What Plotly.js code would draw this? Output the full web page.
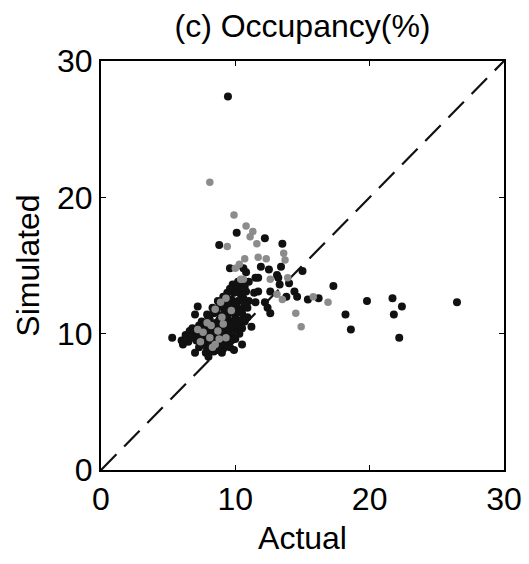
<!DOCTYPE html>
<html>
<head>
<meta charset="utf-8">
<script src="https://cdn.plot.ly/plotly-3.0.1.min.js"></script>
<style>html,body{margin:0;padding:0;background:#fff;}#chart{width:529px;height:564px;}</style>
</head>
<body>
<div id="chart"></div>
<script>
// Black series (Actual, Simulated)
var blackX = [9.45,10.1,8.8,13.5,9.6,10.6,11.9,12.5,13.4,15.0,10.8,11.5,13.1,13.2,11.0,14.0,13.3,11.7,17.3,11.4,12.6,11.7,14.4,13.8,14.6,15.4,16.2,11.5,12.2,12.4,12.6,11.2,18.2,18.6,19.8,21.7,22.4,21.8,22.2,26.5,7.2,7.0,5.3,6.0,7.0,12.2,
  9.8,10.3,10.7,10.1,
  9.4,9.9,10.4,10.8,9.1,
  8.7,9.2,9.7,10.2,10.6,11.0,
  8.3,8.8,9.4,9.9,10.4,10.9,
  7.9,8.4,8.9,9.5,10.0,10.5,10.9,
  7.5,8.1,8.6,9.2,9.7,10.2,10.7,
  6.8,7.3,7.8,8.4,9.0,9.5,10.0,10.5,
  6.3,6.9,7.5,8.0,8.6,9.2,9.8,10.3,
  6.5,7.1,7.7,8.3,8.9,9.5,10.0,
  7.3,7.9,8.5,9.1,9.6,
  7.8,8.4,9.0,
  6.1,6.6,8.0,9.9,10.5,
  9.6,10.5,9.0,9.6,10.1,10.7,8.6,9.2,9.8,10.3,8.0,8.8,9.4,10.0,10.5,
  7.6,8.6,9.3,9.8,10.3,7.1,7.8,8.3,8.9,9.5,6.7,7.3,8.0,8.6,9.2,9.7,
  7.6,8.2,8.8,9.4,8.1,8.7,10.5,10.2];
var blackY = [27.4,17.4,16.5,16.6,14.8,14.8,14.9,14.7,14.9,14.6,14.5,14.1,14.3,14.1,13.8,13.7,13.6,14.1,13.5,13.0,13.1,13.1,13.1,12.7,12.7,12.5,12.6,12.3,12.3,11.9,11.5,10.5,11.4,10.3,12.4,12.6,12.0,11.4,9.7,12.3,12.0,11.4,9.7,9.5,8.6,17.0,
  13.6,13.7,13.5,13.3,
  13.0,13.0,12.9,13.1,12.7,
  12.4,12.3,12.5,12.4,12.6,12.4,
  11.9,12.0,11.8,12.0,11.8,11.9,
  11.4,11.5,11.3,11.5,11.3,11.5,11.2,
  10.9,11.0,10.8,11.0,10.9,10.8,10.9,
  10.4,10.6,10.3,10.5,10.4,10.6,10.3,10.4,
  9.9,10.0,9.8,10.1,9.9,10.0,9.8,10.0,
  9.4,9.5,9.3,9.5,9.4,9.3,9.6,
  9.0,8.9,9.1,8.9,9.0,
  8.6,8.7,8.6,
  9.2,10.2,8.3,8.8,9.2,
  13.3,13.2,12.0,12.2,12.1,12.2,11.6,11.6,11.6,11.6,11.2,11.0,11.2,11.0,11.0,
  10.6,10.6,10.3,10.5,10.6,10.2,10.0,10.2,10.1,10.1,9.7,9.7,9.6,9.6,9.6,9.5,
  9.2,9.2,9.2,9.1,8.8,8.8,12.9,13.8];
// Gray series
var grayX = [8.1,9.9,10.8,11.3,11.1,9.4,11.6,13.6,11.7,12.3,13.7,10.7,10.3,10.0,10.6,12.6,13.9,13.1,15.8,16.9,13.5,14.5,14.9,
  8.9,9.3,8.5,9.0,8.2,8.7,7.6,8.1,8.8,7.4,9.3,7.9,8.5,9.1,10.4,9.7,7.2,8.3];
var grayY = [21.1,18.7,17.9,17.5,17.1,16.4,16.6,15.9,15.6,15.5,15.4,15.5,15.1,14.8,14.0,14.0,14.1,12.9,12.7,12.3,12.5,11.5,10.5,
  12.3,12.6,11.8,11.2,10.6,10.2,10.1,9.7,9.6,9.4,9.7,10.8,9.2,10.7,14.0,11.7,10.3,9.0];
var diagonal = [0, 30];
var tickVals = [0, 10, 20, 30];

var font = {family: 'Liberation Sans, Arial, Helvetica, sans-serif', color: '#000', size: 32};

var traces = [
  {x: diagonal, y: diagonal, mode: 'lines', line: {color: '#111', width: 2.2, dash: '22px,11px'}, hoverinfo: 'skip'},
  {x: blackX, y: blackY, mode: 'markers', marker: {color: '#111', size: 8}},
  {x: grayX, y: grayY, mode: 'markers', marker: {color: '#8c8c8c', size: 7.5}}
];

var axisCommon = {
  range: [0, 30], tickvals: tickVals, showgrid: false, zeroline: false,
  showline: true, linecolor: '#000', linewidth: 2, mirror: 'ticks',
  ticks: 'inside', ticklen: 5, tickwidth: 1.5, tickcolor: '#000',
  tickfont: font, fixedrange: true
};

var layout = {
  width: 529, height: 564,
  margin: {l: 101, r: 25, t: 61, b: 94},
  paper_bgcolor: '#fff', plot_bgcolor: '#fff',
  showlegend: false,
  font: font,
  title: {text: '(c) Occupancy(%)', font: font, x: 0.5, xref: 'paper', y: 0.955, yanchor: 'middle'},
  xaxis: Object.assign({}, axisCommon, {title: {text: 'Actual', font: font, standoff: 10}}),
  yaxis: Object.assign({}, axisCommon, {title: {text: 'Simulated', font: font, standoff: 8}})
};

Plotly.newPlot('chart', traces, layout, {displayModeBar: false, staticPlot: true});
</script>
</body>
</html>
